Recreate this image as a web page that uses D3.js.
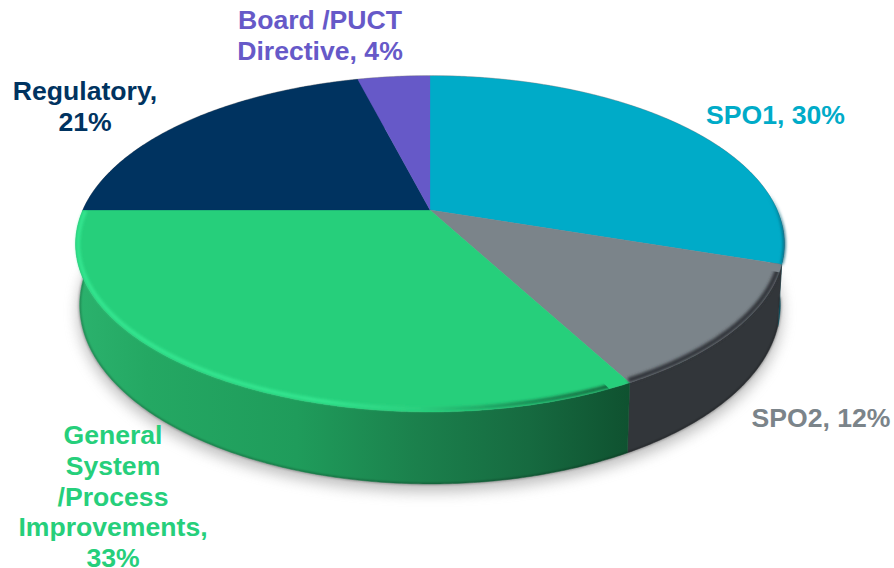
<!DOCTYPE html>
<html>
<head>
<meta charset="utf-8">
<script src="https://cdn.jsdelivr.net/npm/d3@7"></script>
<style>html,body{margin:0;padding:0;background:#fff}svg{display:block}</style>
</head>
<body>
<svg id="chart" width="894" height="568"></svg>
<script>
const categories = ["SPO1", "SPO2", "General System /Process Improvements", "Regulatory", "Board /PUCT Directive"];
const values = [30, 12, 33, 21, 4];
const faceColors = ["#00ABC8", "#7B848A", "#26CF7B", "#003360", "#6659C8"];
const labelLines = [["SPO1, 30%"], ["SPO2, 12%"], ["General", "System", "/Process", "Improvements,", "33%"], ["Regulatory,", "21%"], ["Board /PUCT", "Directive, 4%"]];
const labelX = [775.5, 821, 113, 85, 320];
const labelY = [124, 427, 444, 100, 29];

const svg = d3.select("#chart");
const cx = 430, cy = 210, k = 0.2023, a = 347, b = 161.1;
const topCy = 244, topRy = 168, topRx = 354;
const botCy = 305, botRy = 179, botRx = 350;

function project(t) {
  const s2 = Math.sin(2 * t);
  const tt = t + ((t > Math.PI / 2 && t < Math.PI) ? -0.012 * s2 : 0);
  const x = Math.sin(tt), y = -Math.cos(tt), d = 1 - k * y;
  return [cx + a * x / d, cy + b * y / d];
}
function lower(p) {
  return [cx + (p[0] - cx) * botRx / topRx, botCy + (p[1] - topCy) * botRy / topRy];
}
function inset(p) {
  return [cx + (p[0] - cx) * (1 - 2.5 / topRx), topCy + (p[1] - topCy) * (1 - 3 / topRy)];
}
function arcPts(t0, t1) {
  const n = Math.max(2, Math.ceil((t1 - t0) / 0.01));
  return d3.range(n + 1).map(i => project(t0 + (t1 - t0) * i / n));
}
const line = d3.line();
const pieData = d3.pie().sort(null).value(d => d)(values);

const defs = svg.append("defs");
const blur = (id, s) => defs.append("filter").attr("id", id)
  .attr("x", "-10%").attr("y", "-10%").attr("width", "120%").attr("height", "130%")
  .append("feGaussianBlur").attr("stdDeviation", s);
blur("shadow", 7); blur("rim", 1.6); blur("edge", 1);

function grad(id, stops, x1, x2) {
  const g = defs.append("linearGradient").attr("id", id).attr("gradientUnits", "userSpaceOnUse")
    .attr("x1", x1).attr("x2", x2).attr("y1", 0).attr("y2", 0);
  stops.forEach(s => g.append("stop").attr("offset", s[0]).attr("stop-color", s[1]).attr("stop-opacity", s[2] === undefined ? 1 : s[2]));
}
grad("greenSide", [[0, "#2BB26D"], [0.13, "#24A863"], [0.4, "#1F9C5B"], [0.62, "#1B804C"], [0.82, "#166A40"], [1, "#0F5230"]], 76, 628);
grad("greenRim", [[0, "#36E892"], [0.45, "#36E892"], [0.62, "#2BD07F"], [0.8, "#1A8A54"], [1, "#0F5230"]], 76, 628);
grad("tealSide", [[0, "#0A7F96"], [1, "#0A4A58"]], 770, 786);
grad("tealRim", [[0, "#0A6F85", 0], [0.5, "#0A6F85", 0.5], [1, "#0A5F75", 1]], 768, 784);

const sideFill = ["url(#tealSide)", "#32363A", "url(#greenSide)", "#00244A", "#4A4090"];
const rimStroke = ["url(#tealRim)", "#32363A", "url(#greenRim)", null, null];

// soft shadow under the disc
svg.append("ellipse").attr("cx", cx).attr("cy", botCy + 7).attr("rx", botRx + 2).attr("ry", botRy + 1)
  .attr("fill", "#8c8c8c").attr("opacity", 0.55).attr("filter", "url(#shadow)");

// side walls
svg.append("g").selectAll("path").data(pieData).join("path")
  .attr("d", d => {
    const top = arcPts(d.startAngle, d.endAngle);
    return line(top.concat(top.map(lower).reverse())) + "Z";
  })
  .attr("fill", (d, i) => sideFill[i])
  .attr("stroke", (d, i) => sideFill[i]).attr("stroke-width", 0.5);

// dark lower edge of the wall
svg.append("path")
  .attr("d", line(arcPts(Math.PI * 0.55, Math.PI * 1.5).map(lower)))
  .attr("fill", "none").attr("stroke", "#000").attr("stroke-opacity", 0.3).attr("stroke-width", 2)
  .attr("filter", "url(#edge)");

// faint back edge
svg.append("path")
  .attr("d", line(arcPts(-Math.PI * 0.5, Math.PI * 0.5).map(p => [p[0], p[1] - 0.4])))
  .attr("fill", "none").attr("stroke", "#777").attr("stroke-opacity", 0.4).attr("stroke-width", 1);

// top face
svg.append("g").selectAll("path").data(pieData).join("path")
  .attr("d", d => line([[cx, cy]].concat(arcPts(d.startAngle, d.endAngle))) + "Z")
  .attr("fill", (d, i) => faceColors[i])
  .attr("stroke", (d, i) => faceColors[i]).attr("stroke-width", 0.3);

// bevelled rim, clipped to each slice's own share of the wall
pieData.filter((d, i) => rimStroke[i]).forEach(d => {
  const i = d.index, id = "clip" + i;
  const top = arcPts(d.startAngle, d.endAngle);
  const outer = top.map(p => [cx + (p[0] - cx) * 1.04, cy + (p[1] - cy) * 1.2]);
  defs.append("clipPath").attr("id", id).append("path")
    .attr("d", line([[cx, cy]].concat(outer)) + "Z");
  svg.append("g").attr("clip-path", "url(#" + id + ")").append("path")
    .attr("d", line(i === 0 ? top : top.map(inset)))
    .attr("fill", "none").attr("stroke", rimStroke[i])
    .attr("stroke-width", i === 2 ? 3.5 : i === 0 ? 2.5 : 5)
    .attr("filter", "url(#rim)");
});

// labels
const fontSize = 26.6, lineH = 30.8;
svg.append("g").selectAll("text").data(pieData).join("text")
  .attr("text-anchor", "middle")
  .attr("font-family", "'Liberation Sans', Arial, sans-serif")
  .attr("font-weight", "bold").attr("font-size", fontSize)
  .attr("fill", (d, i) => faceColors[i])
  .each(function (d, i) {
    d3.select(this).selectAll("tspan").data(labelLines[i]).join("tspan")
      .attr("x", labelX[i])
      .attr("y", (s, j) => labelY[i] + j * lineH)
      .text(s => s);
  });
</script>
</body>
</html>
